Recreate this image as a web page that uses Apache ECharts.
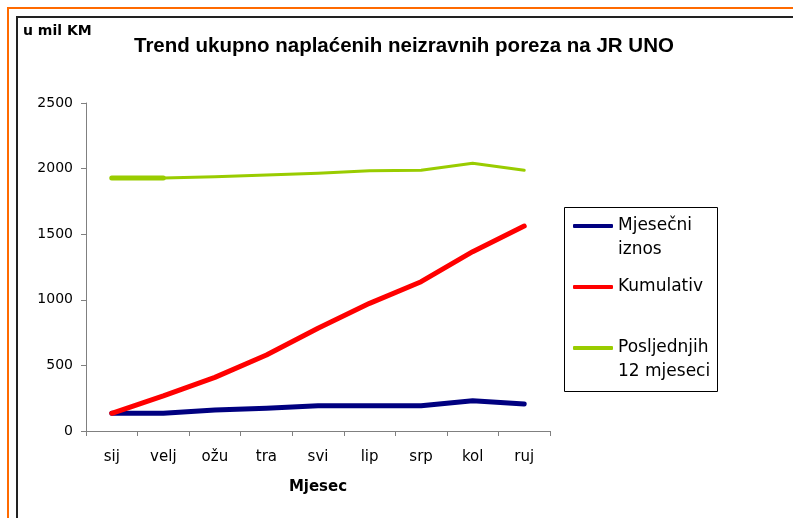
<!DOCTYPE html>
<html>
<head>
<meta charset="utf-8">
<script src="https://cdn.jsdelivr.net/npm/echarts@6/dist/echarts.min.js"></script>
<style>
  html, body { margin: 0; padding: 0; background: #fff; }
  #chart { width: 793px; height: 518px; }
</style>
</head>
<body>
<div id="chart"></div>
<script>
// podaci (u mil KM)
const months = ['sij', 'velj', 'ožu', 'tra', 'svi', 'lip', 'srp', 'kol', 'ruj'];
const mjesecni = [135, 135, 160, 173, 193, 193, 193, 231, 206];
const kumulativ = [135, 267, 409, 579, 783, 973, 1138, 1367, 1562];
const zadnjih12 = [1928, 1928, 1938, 1951, 1964, 1984, 1987, 2040, 1987];
const yTicks = { min: 0, max: 2500, interval: 500 };

const chart = echarts.init(document.getElementById('chart'));

const option = {
    animation: false,
    backgroundColor: '#ffffff',
    title: [{
        text: 'Trend ukupno naplaćenih neizravnih poreza na JR UNO',
        left: 134,
        top: 36,
        padding: 0,
        textStyle: { fontFamily: 'Liberation Sans', fontWeight: 'bold', fontSize: 20.5, color: '#000' }
    }, {
        text: 'u mil KM',
        left: 23,
        top: 24,
        padding: 0,
        textStyle: { fontFamily: 'DejaVu Sans', fontWeight: 'bold', fontSize: 14, color: '#000' }
    }],
    graphic: [
        { type: 'rect', shape: { x: 8, y: 8, width: 900, height: 700 }, style: { fill: 'none', stroke: '#FF6A00', lineWidth: 2 }, silent: true },
        { type: 'rect', shape: { x: 17, y: 17, width: 900, height: 700 }, style: { fill: 'none', stroke: '#222', lineWidth: 2 }, silent: true },
        { type: 'rect', shape: { x: 564.5, y: 207.5, width: 153, height: 184 }, style: { fill: 'none', stroke: '#000', lineWidth: 1 }, silent: true }
    ],
    legend: {
        orient: 'vertical',
        left: 573,
        top: 190,
        icon: 'roundRect',
        itemWidth: 40,
        itemHeight: 4,
        itemGap: 13,
        padding: 0,
        // prazan prvi red da linija stoji uz prvi red teksta
        formatter: name => name.indexOf('\n') >= 0 ? '\n' + name : name,
        textStyle: { fontFamily: 'DejaVu Sans', fontSize: 17, color: '#000', lineHeight: 24 },
        data: ['Mjesečni\niznos', 'Kumulativ', 'Posljednjih\n12 mjeseci']
    },
    grid: { left: 86, right: 243, top: 103, bottom: 87 },
    xAxis: {
        type: 'category',
        data: months,
        boundaryGap: true,
        name: 'Mjesec',
        nameLocation: 'middle',
        nameGap: 49,
        nameTextStyle: { fontFamily: 'DejaVu Sans', fontWeight: 'bold', fontSize: 15, color: '#000' },
        axisLine: { lineStyle: { color: '#808080', width: 1 } },
        axisTick: { show: true, inside: false, length: 5, lineStyle: { color: '#808080' } },
        axisLabel: { margin: 19, fontFamily: 'DejaVu Sans', fontSize: 15, color: '#000' },
        splitLine: { show: false }
    },
    yAxis: {
        type: 'value',
        min: yTicks.min,
        max: yTicks.max,
        interval: yTicks.interval,
        axisLine: { show: true, lineStyle: { color: '#808080', width: 1 } },
        axisTick: { show: true, inside: false, length: 5, lineStyle: { color: '#808080' } },
        axisLabel: { margin: 13, fontFamily: 'DejaVu Sans', fontSize: 14, color: '#000', formatter: v => String(v) },
        splitLine: { show: false }
    },
    series: [{
        name: 'Mjesečni\niznos',
        type: 'line',
        data: mjesecni,
        symbol: 'none',
        z: 4,
        lineStyle: { color: '#000080', width: 5, cap: 'round', join: 'round' },
        itemStyle: { color: '#000080' }
    }, {
        name: 'Kumulativ',
        type: 'line',
        data: kumulativ,
        symbol: 'none',
        z: 5,
        lineStyle: { color: '#FF0000', width: 5, cap: 'round', join: 'round' },
        itemStyle: { color: '#FF0000' }
    }, {
        name: 'Posljednjih\n12 mjeseci',
        type: 'line',
        data: zadnjih12,
        symbol: 'none',
        z: 3,
        lineStyle: { color: '#99CC00', width: 3, cap: 'round', join: 'round' },
        itemStyle: { color: '#99CC00' }
    }, {
        // deblji prvi segment zelene linije kao na izvornom grafikonu
        name: 'zadnjih12-pocetak',
        type: 'line',
        data: zadnjih12.slice(0, 2),
        symbol: 'none',
        z: 3,
        lineStyle: { color: '#99CC00', width: 5, cap: 'round' },
        itemStyle: { color: '#99CC00' }
    }]
};

chart.setOption(option);
</script>
</body>
</html>
